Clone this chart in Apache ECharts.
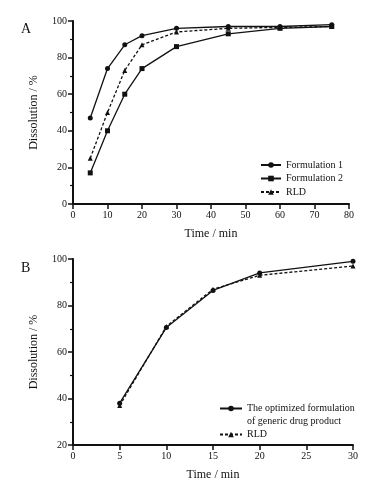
<!DOCTYPE html>
<html>
<head>
<meta charset="utf-8">
<script src="https://cdn.jsdelivr.net/npm/echarts@6/dist/echarts.min.js"></script>
<style>
  html, body { margin: 0; padding: 0; background: #fff; }
  #chart { width: 382px; height: 485px; }
</style>
</head>
<body>
<div id="chart"></div>
<script>
  // panel A
  const timeA = [5, 10, 15, 20, 30, 45, 60, 75];
  const form1 = [47, 74, 87, 92, 96, 97, 97, 98];
  const form2 = [17, 40, 60, 74, 86, 93, 96, 97];
  const rldA = [25, 50, 73, 87, 94, 96, 96.5, 97];
  // panel B
  const timeB = [5, 10, 15, 20, 30];
  const optimized = [38, 70.5, 86.5, 94, 99];
  const rldB = [37, 71, 87, 93, 97];

  const font = '"Liberation Serif", "DejaVu Serif", serif';
  const ink = '#111';
  const optName = 'The optimized formulation of generic drug product';

  const pairs = (xs, ys) => xs.map((x, i) => [x, ys[i]]);

  function xAxis(gridIndex, max, interval) {
    return {
      type: 'value', gridIndex, min: 0, max, interval,
      name: 'Time / min', nameLocation: 'middle', nameGap: 24,
      nameTextStyle: { fontFamily: font, fontSize: 12, color: ink },
      axisLine: { lineStyle: { color: ink, width: 2 } },
      axisTick: { length: 5, lineStyle: { color: ink, width: 1.5 } },
      axisLabel: { fontFamily: font, fontSize: 10, color: ink, margin: 6 },
      splitLine: { show: false }
    };
  }

  function yAxis(gridIndex, min) {
    return {
      type: 'value', gridIndex, min, max: 100, interval: 20,
      name: 'Dissolution / %', nameLocation: 'middle', nameGap: 33, nameRotate: 90,
      nameTextStyle: { fontFamily: font, fontSize: 12, color: ink },
      axisLine: { show: true, lineStyle: { color: ink, width: 2 } },
      axisTick: { show: true, length: 5, lineStyle: { color: ink, width: 1.5 } },
      minorTick: { show: true, splitNumber: 2, length: 3, lineStyle: { color: ink, width: 1.2 } },
      axisLabel: { fontFamily: font, fontSize: 10, color: ink, margin: 6 },
      splitLine: { show: false }
    };
  }

  function line(name, xi, data, symbol, size, dashed) {
    return {
      name, type: 'line', xAxisIndex: xi, yAxisIndex: xi,
      data, symbol, symbolSize: size, showSymbol: true,
      lineStyle: { color: ink, width: 1.3, type: dashed ? [3, 2] : 'solid' },
      itemStyle: { color: ink },
      emphasis: { disabled: true },
      animation: false
    };
  }

  const chart = echarts.init(document.getElementById('chart'), null, { renderer: 'canvas' });
  chart.setOption({
    backgroundColor: '#fff',
    animation: false,
    title: [
      { text: 'A', left: 16, top: 17, textStyle: { fontFamily: font, fontSize: 14, fontWeight: 'normal', color: ink } },
      { text: 'B', left: 16, top: 256, textStyle: { fontFamily: font, fontSize: 14, fontWeight: 'normal', color: ink } }
    ],
    grid: [
      { left: 73, top: 21, width: 276, height: 183 },
      { left: 73, top: 259, width: 280, height: 186 }
    ],
    xAxis: [xAxis(0, 80, 10), xAxis(1, 30, 5)],
    yAxis: [yAxis(0, 0), yAxis(1, 20)],
    legend: [
      {
        orient: 'vertical', left: 260, top: 159, padding: 0,
        itemWidth: 20, itemHeight: 7, itemGap: 1.5,
        textStyle: { fontFamily: font, fontSize: 10, color: ink, lineHeight: 12 },
        data: ['Formulation 1', 'Formulation 2', 'RLD A'],
        formatter: n => n === 'RLD A' ? 'RLD' : n
      },
      {
        orient: 'vertical', left: 219, top: 389, padding: 0,
        itemWidth: 22, itemHeight: 7, itemGap: 0,
        textStyle: { fontFamily: font, fontSize: 10, color: ink, lineHeight: 13 },
        data: [optName, 'RLD B'],
        // blank first line keeps the icon level with the first text line
        formatter: n => n === 'RLD B' ? 'RLD' : '\nThe optimized formulation\nof generic drug product'
      }
    ],
    series: [
      line('Formulation 1', 0, pairs(timeA, form1), 'circle', 5, false),
      line('Formulation 2', 0, pairs(timeA, form2), 'rect', 5, false),
      line('RLD A', 0, pairs(timeA, rldA), 'triangle', 5, true),
      line(optName, 1, pairs(timeB, optimized), 'circle', 5, false),
      line('RLD B', 1, pairs(timeB, rldB), 'triangle', 5, true)
    ]
  });
</script>
</body>
</html>
